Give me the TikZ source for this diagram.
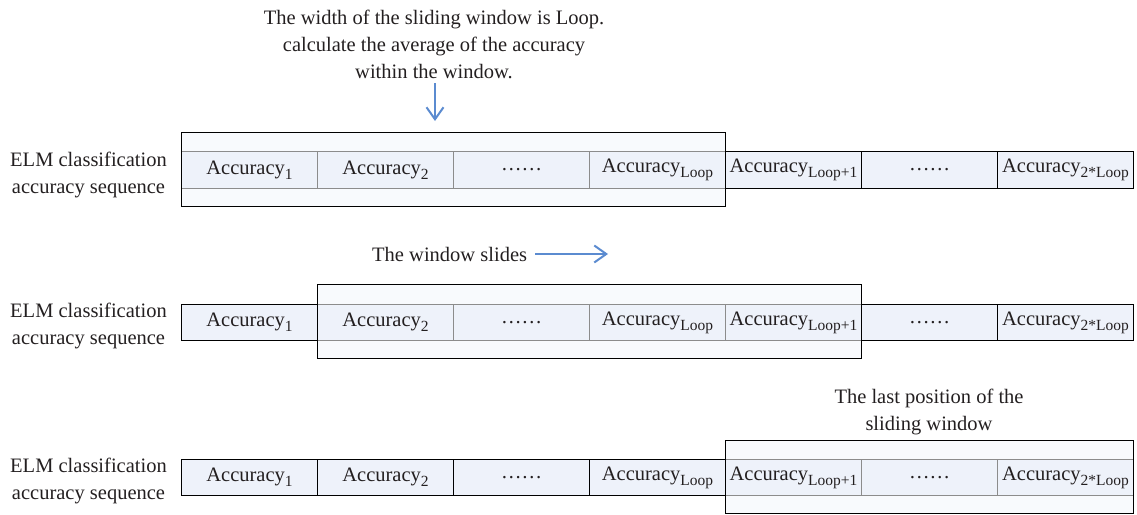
\documentclass[tikz,border=0pt]{standalone}
\usepackage{fontspec}
\setmainfont{Liberation Serif}
\usetikzlibrary{arrows.meta}

\definecolor{cellfill}{HTML}{EEF2FA}
\definecolor{winfill}{HTML}{F8FAFD}
\definecolor{arrowblue}{HTML}{5B8BD0}
\definecolor{ink}{HTML}{231F20}

% "Accuracy" with a lowered, smaller index
\newcommand\accsub[1]{Accuracy\raisebox{-0.55ex}{\fontsize{15.5}{15.5}\selectfont #1}}

\tikzset{
  txt/.style={font=\fontsize{20.5}{27}\selectfont, text=ink, inner sep=0pt},
  cellbox/.style={draw=black, line width=1pt, fill=cellfill, minimum width=136pt,
    minimum height=36.5pt, inner sep=0pt, anchor=west, txt},
  wincell/.style={cellbox, draw=black!45},
  winback/.style={fill=winfill, draw=none},
  winframe/.style={draw=black, line width=1pt},
  bluearrow/.style={draw=arrowblue, line width=2pt,
    -{Straight Barb[length=12pt,width=17pt,line width=2pt]}},
}

\begin{document}
\begin{tikzpicture}[x=1pt,y=-1pt]
\useasboundingbox (0,0) rectangle (1137,514);

% window backgrounds
\fill[winback] (181,132) rectangle (725,206);
\fill[winback] (317,284) rectangle (861,358);
\fill[winback] (725,440) rectangle (1133,513);

% first sequence: window over cells 1..Loop
\node[wincell] (c1-1) at (181,170) {\accsub{1}};
\node[wincell] (c1-2) at (317,170) {\accsub{2}};
\node[wincell] (c1-3) at (453,170) {……};
\node[wincell] (c1-4) at (589,170) {\accsub{Loop}};
\node[cellbox] (c1-5) at (725,170) {\accsub{Loop+1}};
\node[cellbox] (c1-6) at (861,170) {……};
\node[cellbox] (c1-7) at (997,170) {\accsub{2*Loop}};

% second sequence: window moved one cell to the right
\node[cellbox] (c2-1) at (181,322.5) {\accsub{1}};
\node[wincell] (c2-2) at (317,322.5) {\accsub{2}};
\node[wincell] (c2-3) at (453,322.5) {……};
\node[wincell] (c2-4) at (589,322.5) {\accsub{Loop}};
\node[wincell] (c2-5) at (725,322.5) {\accsub{Loop+1}};
\node[cellbox] (c2-6) at (861,322.5) {……};
\node[cellbox] (c2-7) at (997,322.5) {\accsub{2*Loop}};

% third sequence: window at its last position
\node[cellbox] (c3-1) at (181,477.5) {\accsub{1}};
\node[cellbox] (c3-2) at (317,477.5) {\accsub{2}};
\node[cellbox] (c3-3) at (453,477.5) {……};
\node[cellbox] (c3-4) at (589,477.5) {\accsub{Loop}};
\node[wincell] (c3-5) at (725,477.5) {\accsub{Loop+1}};
\node[wincell] (c3-6) at (861,477.5) {……};
\node[wincell] (c3-7) at (997,477.5) {\accsub{2*Loop}};

% row labels
\foreach \r/\y in {1/174.5, 2/326, 3/481} {
  \node[txt, align=center] (lab\r) at (88.5,\y) {ELM classification\\accuracy sequence};
}

% sliding window outlines
\draw[winframe] (181,132) rectangle (725,206);
\draw[winframe] (317,284) rectangle (861,358);
\draw[winframe] (725,440) rectangle (1133,513);

% annotations
\node[txt, align=center] (note1) at (434,44.5)
  {The width of the sliding window is Loop.\\calculate the average of the accuracy\\within the window.};
\coordinate (a1s) at (435,83);
\coordinate (a1e) at (435,121);
\draw[bluearrow] (a1s) -- (a1e);

\node[txt, anchor=west] (note2) at (372,254) {The window slides};
\coordinate (a2e) at (608,254);
\draw[bluearrow] ([xshift=8pt]note2.east) -- (a2e);

\node[txt, align=center] (note3) at (929,412) {The last position of the\\sliding window};
\end{tikzpicture}
\end{document}
